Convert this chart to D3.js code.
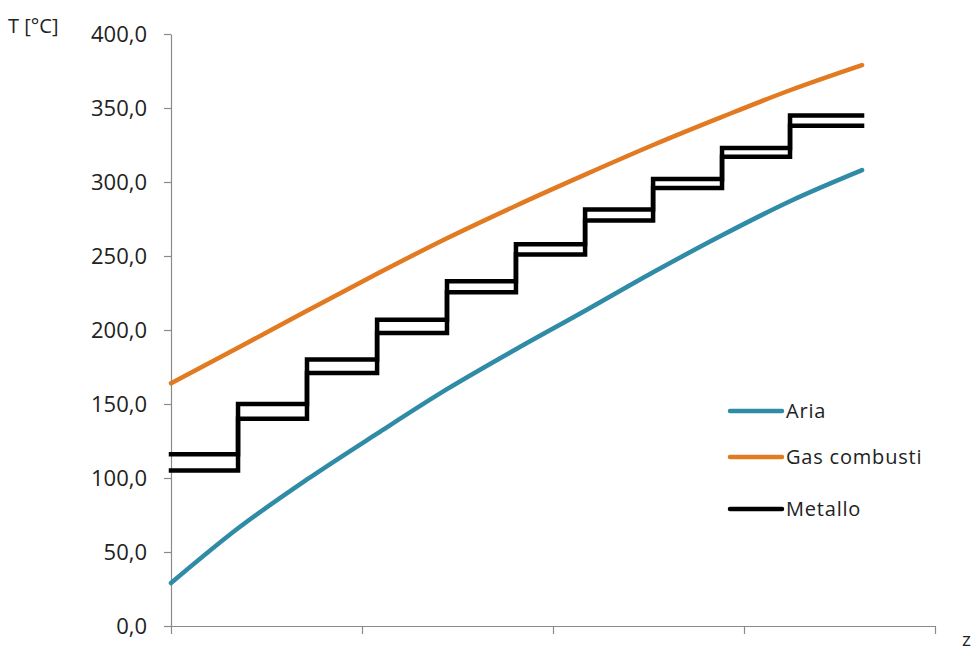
<!DOCTYPE html>
<html>
<head>
<meta charset="utf-8">
<script src="https://cdn.jsdelivr.net/npm/d3@7"></script>
<style>
  html, body { margin: 0; padding: 0; background: #fff; }
  svg text { font-family: "Open Sans", "DejaVu Sans", sans-serif; fill: #222; }
</style>
</head>
<body>
<div id="chart"></div>
<script>
const width = 977;
const height = 652;
const margin = { top: 34, right: 42, bottom: 26, left: 171 };

// nodes along z (step boundaries)
const zNodes = [0, 0.351, 0.712, 1.079, 1.445, 1.806, 2.168, 2.524, 2.885, 3.241, 3.618];
const xTicks = [0, 1, 2, 3, 4];
const yTicks = [0, 50, 100, 150, 200, 250, 300, 350, 400];

// temperature profiles [°C]
const aria = [29, 66, 99, 130, 160, 187, 213, 239, 264, 287, 308];
const gas = [164, 188, 213, 238, 262, 284, 305, 325, 344, 362, 379];
// metal: two step profiles, one value per segment
const metalUpper = [116, 150, 180, 207, 233, 258, 281.5, 302, 323, 345];
const metalLower = [105, 140, 171, 198, 225.5, 251, 274, 296, 317, 338];

const legendNames = ["Aria", "Gas combusti", "Metallo"];
const colors = ["#2f8ba6", "#e27a22", "#000000"];

const x = d3.scaleLinear().domain([0, 4]).range([margin.left, width - margin.right]);
const y = d3.scaleLinear().domain([0, 400]).range([height - margin.bottom, margin.top]);

const svg = d3.select("#chart")
    .append("svg")
    .attr("width", width)
    .attr("height", height)
    .attr("viewBox", `0 0 ${width} ${height}`);

// axes
const fmt = v => d3.format(".1f")(v).replace(".", ",");

const yAxis = svg.append("g")
    .attr("transform", `translate(${margin.left},0)`)
    .call(d3.axisLeft(y).tickValues(yTicks).tickFormat(fmt).tickSize(7).tickSizeOuter(0).tickPadding(17));
yAxis.selectAll("text").attr("font-size", 22);

svg.append("g")
    .attr("transform", `translate(0,${height - margin.bottom})`)
    .call(d3.axisBottom(x).tickValues(xTicks).tickFormat("").tickSize(8).tickSizeOuter(0));

svg.selectAll(".domain, .tick line").attr("stroke", "#8a8a8a").attr("stroke-width", 1.2);

svg.append("text")
    .attr("x", 8).attr("y", 33)
    .attr("font-size", 20)
    .text("T [°C]");

svg.append("text")
    .attr("x", 962).attr("y", 646)
    .attr("font-size", 19)
    .text("z");

// smooth curves
const curveLine = d3.line()
    .curve(d3.curveMonotoneX)
    .x((d, i) => x(zNodes[i]))
    .y(d => y(d));

svg.append("path")
    .attr("d", curveLine(aria))
    .attr("fill", "none")
    .attr("stroke", colors[0])
    .attr("stroke-width", 4.5)
    .attr("stroke-linecap", "round");

svg.append("path")
    .attr("d", curveLine(gas))
    .attr("fill", "none")
    .attr("stroke", colors[1])
    .attr("stroke-width", 4.5)
    .attr("stroke-linecap", "round");

// metal step lines
const stepLine = d3.line()
    .curve(d3.curveStepAfter)
    .x(d => x(d[0]))
    .y(d => y(d[1]));

[metalUpper, metalLower].forEach(vals => {
    const pts = vals.map((v, i) => [zNodes[i], v]);
    pts.push([zNodes[zNodes.length - 1], vals[vals.length - 1]]);
    svg.append("path")
        .attr("d", stepLine(pts))
        .attr("fill", "none")
        .attr("stroke", colors[2])
        .attr("stroke-width", 4.5)
        .attr("stroke-linejoin", "miter")
        .attr("stroke-linecap", "square");
});

// legend
const legend = svg.append("g").attr("transform", "translate(730,411)");
legendNames.forEach((name, i) => {
    const g = legend.append("g").attr("transform", `translate(0,${[0, 46, 98][i]})`);
    g.append("line")
        .attr("x1", 0).attr("x2", 52)
        .attr("stroke", colors[i])
        .attr("stroke-width", 4.5)
        .attr("stroke-linecap", "round");
    g.append("text")
        .attr("x", 56).attr("y", 7)
        .attr("font-size", 20)
        .attr("letter-spacing", 0.8)
        .text(name);
});
</script>
</body>
</html>
